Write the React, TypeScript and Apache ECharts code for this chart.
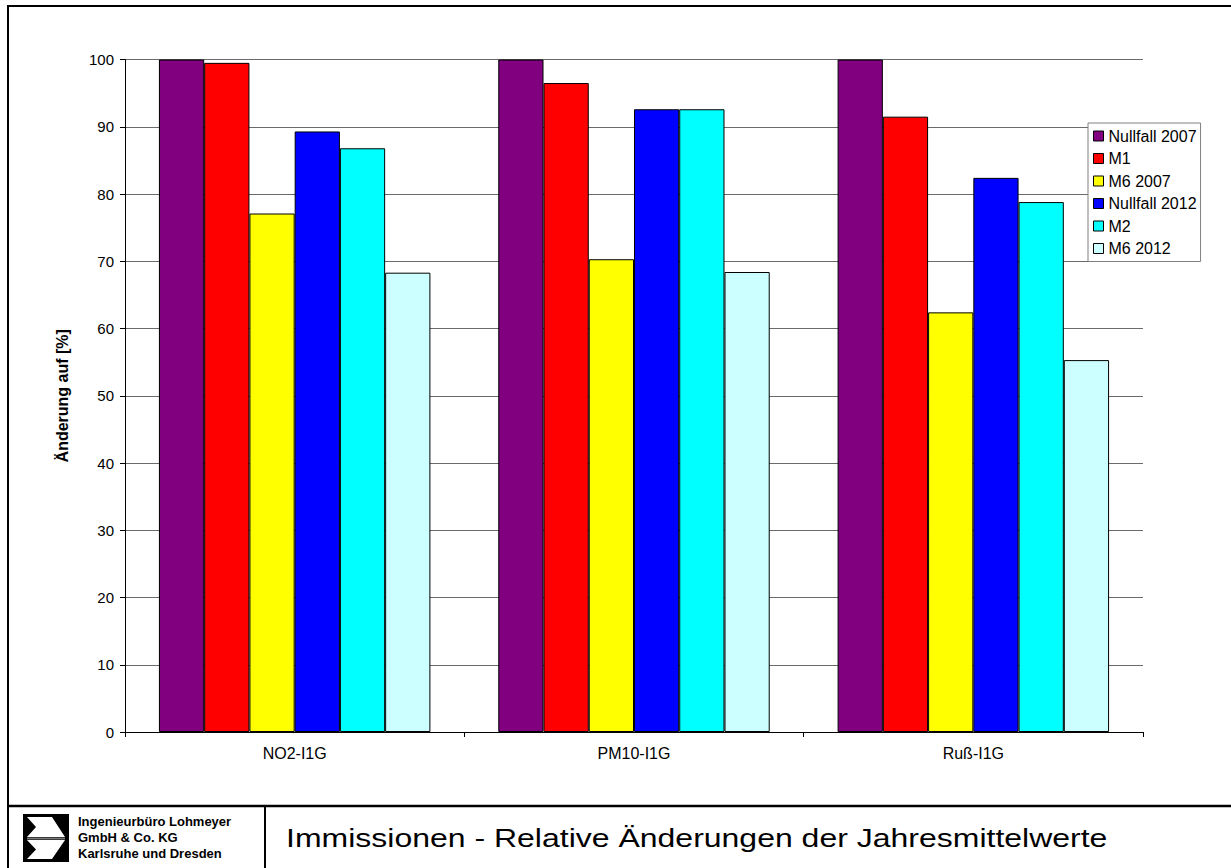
import React, { useEffect, useRef } from "react";
import * as echarts from "echarts";

const categories = ["NO2-I1G", "PM10-I1G", "Ruß-I1G"];
const seriesNames = ["Nullfall 2007", "M1", "M6 2007", "Nullfall 2012", "M2", "M6 2012"];
const seriesColors = ["#800080", "#FF0000", "#FFFF00", "#0000FF", "#00FFFF", "#CCFFFF"];
const nullfall2007 = [100, 100, 100];
const m1 = [99.5, 96.5, 91.5];
const m6_2007 = [77.1, 70.3, 62.4];
const nullfall2012 = [89.3, 92.6, 82.4];
const m2 = [86.8, 92.6, 78.8];
const m6_2012 = [68.3, 68.4, 55.3];
const seriesValues = [nullfall2007, m1, m6_2007, nullfall2012, m2, m6_2012];
const yTicks = { min: 0, max: 100, interval: 10 };

const FONT = "'Liberation Sans', Arial, sans-serif";

export default function App() {
  const ref = useRef<HTMLDivElement>(null);

  useEffect(() => {
    document.body.style.margin = "0";
    if (!ref.current) return;
    const chart = echarts.init(ref.current, undefined, { renderer: "svg" });

    const series = seriesNames.map((name, i) => ({
      name,
      type: "bar" as const,
      data: seriesValues[i],
      barGap: "0%",
      barCategoryGap: "20%",
      itemStyle: { color: seriesColors[i], borderColor: "#000", borderWidth: 1 },
    }));

    chart.setOption({
      animation: false,
      backgroundColor: "#fff",
      textStyle: { fontFamily: FONT },
      grid: { left: 125, top: 59.5, right: 88, bottom: 136 },
      legend: {
        orient: "vertical",
        left: 1088,
        top: 123,
        padding: [5, 4, 5, 5],
        itemWidth: 10,
        itemHeight: 10,
        itemGap: 6.5,
        icon: "rect",
        backgroundColor: "#fff",
        borderColor: "#808080",
        borderWidth: 1,
        borderRadius: 0,
        itemStyle: { borderColor: "#000", borderWidth: 1 },
        textStyle: { fontFamily: FONT, fontSize: 16, color: "#000" },
        data: seriesNames,
      },
      xAxis: {
        type: "category",
        data: categories,
        axisLine: { lineStyle: { color: "#000", width: 1 } },
        axisTick: { show: true, length: 5, lineStyle: { color: "#000" } },
        axisLabel: { color: "#000", fontSize: 16, fontFamily: FONT, margin: 13 },
      },
      yAxis: {
        type: "value",
        min: yTicks.min,
        max: yTicks.max,
        interval: yTicks.interval,
        name: "Änderung auf [%]",
        nameLocation: "middle",
        nameGap: 55,
        nameTextStyle: { color: "#000", fontSize: 16, fontWeight: "bold", fontFamily: FONT },
        axisLine: { show: true, lineStyle: { color: "#000", width: 1 } },
        axisTick: { show: true, length: 5, lineStyle: { color: "#000" } },
        axisLabel: { color: "#000", fontSize: 15, fontFamily: FONT, margin: 11 },
        splitLine: { show: true, lineStyle: { color: "#6a6a6a", width: 1 } },
      },
      series,
      graphic: [
        // page frame
        { type: "line", shape: { x1: 8, y1: 6, x2: 1231, y2: 6 }, style: { stroke: "#000", lineWidth: 2 } },
        { type: "line", shape: { x1: 8, y1: 5, x2: 8, y2: 868 }, style: { stroke: "#000", lineWidth: 2 } },
        { type: "line", shape: { x1: 8, y1: 806, x2: 1231, y2: 806 }, style: { stroke: "#000", lineWidth: 2.5 } },
        { type: "line", shape: { x1: 265, y1: 806, x2: 265, y2: 868 }, style: { stroke: "#000", lineWidth: 2 } },
        // company logo
        { type: "rect", shape: { x: 23, y: 814, width: 46, height: 48 }, style: { fill: "#000" } },
        {
          type: "polygon",
          shape: { points: [[27, 817], [52, 817], [65, 837], [27, 837], [36, 827]] },
          style: { fill: "#fff" },
        },
        {
          type: "polygon",
          shape: { points: [[27, 840], [65, 840], [52, 859], [27, 859], [36, 849.5]] },
          style: { fill: "#fff" },
        },
        { type: "line", shape: { x1: 27, y1: 838.5, x2: 65, y2: 838.5 }, style: { stroke: "#777", lineWidth: 2 } },
        {
          type: "text",
          x: 78,
          y: 813,
          style: {
            text: "Ingenieurbüro Lohmeyer\nGmbH & Co. KG\nKarlsruhe und Dresden",
            font: `bold 13px ${FONT}`,
            lineHeight: 16,
            fill: "#000",
          },
        },
        {
          type: "text",
          x: 286,
          y: 838,
          scaleX: 1.28,
          style: {
            text: "Immissionen - Relative Änderungen der Jahresmittelwerte",
            font: `25px ${FONT}`,
            fill: "#000",
            verticalAlign: "middle",
          },
        },
      ],
    });

    return () => chart.dispose();
  }, []);

  return (
    <div
      ref={ref}
      style={{ position: "absolute", left: 0, top: 0, width: 1231, height: 868, background: "#fff" }}
    />
  );
}
